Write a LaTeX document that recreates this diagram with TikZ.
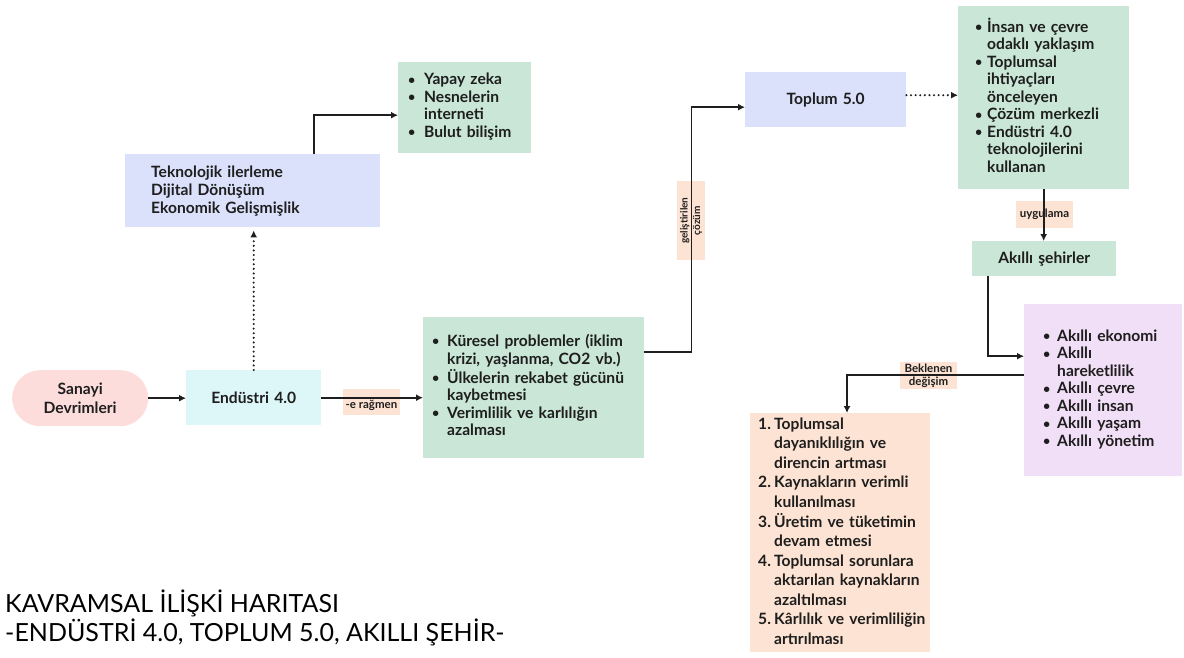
\documentclass[tikz,border=0pt]{standalone}
\usepackage{fontspec}
\setmainfont{Lato}
\usetikzlibrary{arrows.meta,calc}

\definecolor{ink}{HTML}{1E1E1E}
\definecolor{pinkfill}{HTML}{FDDCDC}
\definecolor{cyanfill}{HTML}{DDF6F8}
\definecolor{mintfill}{HTML}{C9E6D6}
\definecolor{lavfill}{HTML}{DCE1FB}
\definecolor{peachfill}{HTML}{FDE3D3}
\definecolor{purpfill}{HTML}{F1DFF7}

% a slightly smaller bullet, centred on the x-height
\newcommand{\bul}{\raisebox{0.6pt}{\fontsize{12.5}{12.5}\selectfont\textbullet}}

\begin{document}
\begin{tikzpicture}[x=1pt,y=-1pt,
  panel/.style={anchor=north west, inner ysep=0pt, align=left, text=ink,
    font=\bfseries\fontsize{15.6}{17.5}\selectfont},
  tag/.style={fill=peachfill, inner sep=0pt, text=ink, align=center,
    font=\bfseries\fontsize{11.5}{13}\selectfont},
  arr/.style={draw=ink, line width=1.8pt, -{Latex[length=7pt,width=7pt]}},
  dotarr/.style={arr, line cap=round, dash pattern=on 0pt off 4.6pt, line width=2.3pt}]
\useasboundingbox (0,0) rectangle (1184,657);

% --- boxes ---
\node[panel, fill=pinkfill, rounded corners=28pt, minimum width=136pt, minimum height=56pt,
      text width=120pt, align=center, font=\bfseries\fontsize{15.6}{19}\selectfont]
      (sanayi) at (12,370) {Sanayi\\Devrimleri};

\node[panel, fill=cyanfill, minimum width=135pt, minimum height=55pt, text width=120pt,
      align=center] (endustri) at (186,370) {Endüstri 4.0};

\node[panel, fill=lavfill, minimum width=255pt, minimum height=73pt, inner xsep=26pt,
      text width=203pt, font=\bfseries\fontsize{15.6}{18}\selectfont]
      (tekno) at (125,154) {Teknolojik ilerleme\\Dijital Dönüşüm\\Ekonomik Gelişmişlik};

\node[panel, fill=mintfill, minimum width=133pt, minimum height=91pt, inner xsep=10pt,
      text width=113pt] (yapay) at (398,62) {%
  \begin{tabular}{@{}p{16pt}@{}l@{}}
  \bul & Yapay zeka\\
  \bul & Nesnelerin\\
       & interneti\\
  \bul & Bulut bilişim
  \end{tabular}};

\node[panel, fill=mintfill, minimum width=221pt, minimum height=141pt, inner xsep=9pt,
      text width=203pt] (kuresel) at (423,317) {%
  \begin{tabular}{@{}p{15pt}@{}l@{}}
  \bul & Küresel problemler (iklim\\
       & krizi, yaşlanma, CO2 vb.)\\
  \bul & Ülkelerin rekabet gücünü\\
       & kaybetmesi\\
  \bul & Verimlilik ve karlılığın\\
       & azalması
  \end{tabular}};

\node[panel, fill=lavfill, minimum width=161pt, minimum height=55pt, text width=140pt,
      align=center] (toplum) at (745,72) {Toplum 5.0};

\node[panel, fill=mintfill, minimum width=171pt, minimum height=183pt, inner xsep=17pt,
      text width=137pt] (green) at (958,6) {%
  \begin{tabular}{@{}p{12pt}@{}l@{}}
  \bul & İnsan ve çevre\\
       & odaklı yaklaşım\\
  \bul & Toplumsal\\
       & ihtiyaçları\\
       & önceleyen\\
  \bul & Çözüm merkezli\\
  \bul & Endüstri 4.0\\
       & teknolojilerini\\
       & kullanan
  \end{tabular}};

\node[panel, fill=mintfill, minimum width=144pt, minimum height=35pt, text width=130pt,
      align=center] (sehir) at (972,241) {Akıllı şehirler};

\node[panel, fill=purpfill, minimum width=158pt, minimum height=172pt, inner xsep=19pt,
      text width=120pt] (purple) at (1024,304) {%
  \begin{tabular}{@{}p{14pt}@{}l@{}}
  \bul & Akıllı ekonomi\\
  \bul & Akıllı\\
       & hareketlilik\\
  \bul & Akıllı çevre\\
  \bul & Akıllı insan\\
  \bul & Akıllı yaşam\\
  \bul & Akıllı yönetim
  \end{tabular}};

\node[panel, fill=peachfill, minimum width=180pt, minimum height=239pt, inner xsep=8pt,
      text width=164pt, font=\bfseries\fontsize{15.6}{19.5}\selectfont]
      (orange) at (750,413) {%
  \begin{tabular}{@{}p{16pt}@{}l@{}}
  1. & Toplumsal\\
     & dayanıklılığın ve\\
     & direncin artması\\
  2. & Kaynakların verimli\\
     & kullanılması\\
  3. & Üretim ve tüketimin\\
     & devam etmesi\\
  4. & Toplumsal sorunlara\\
     & aktarılan kaynakların\\
     & azaltılması\\
  5. & Kârlılık ve verimliliğin\\
     & artırılması
  \end{tabular}};

% --- connector labels ---
\node[tag, minimum width=57pt, minimum height=26pt] (lblrag) at (371.5,402)
  {\smash{\raisebox{-6pt}{-e rağmen}}};
\node[tag, rotate=90, minimum width=79pt, minimum height=28pt,
      font=\bfseries\fontsize{10}{12.5}\selectfont] (lblcoz) at (691,220.5) {geliştirilen\\çözüm};
\node[tag, minimum width=57pt, minimum height=27pt] (lbluyg) at (1044.5,214.5) {uygulama};
\node[tag, minimum width=57pt, minimum height=27pt] (lblbek) at (928.5,375.5) {Beklenen\\değişim};

% --- connectors ---
\draw[arr] (sanayi.east) -- (sanayi.east -| endustri.west);
\draw[arr] (endustri.east) -- (endustri.east -| kuresel.west);
\draw[arr] ([yshift=-35pt]kuresel.north east) -- ++(47,0) |- ([yshift=-7.5pt]toplum.west);
\draw[dotarr] ([yshift=4.5pt]toplum.east) -- ([yshift=4.5pt]toplum.east -| green.west);
\draw[arr] (green.south) -- (green.south |- sehir.north);
\draw[arr] ([xshift=16pt]sehir.south west) |- ([yshift=34pt]purple.west);
\draw[arr] ([yshift=15pt]purple.west) -| ([xshift=97pt]orange.north west);
\draw[dotarr] (endustri.north) -- ([yshift=-3pt]endustri.north |- tekno.south);
\draw[arr] ([xshift=61.5pt]tekno.north) |- ([yshift=-7.5pt]yapay.west);

% --- title ---
\node[anchor=north west, inner sep=0pt, align=left, text=black,
      font=\fontsize{25}{29}\selectfont] (title) at (5,590)
  {KAVRAMSAL İLİŞKİ HARITASI\\-ENDÜSTRİ 4.0, TOPLUM 5.0, AKILLI ŞEHİR-};
\end{tikzpicture}
\end{document}
